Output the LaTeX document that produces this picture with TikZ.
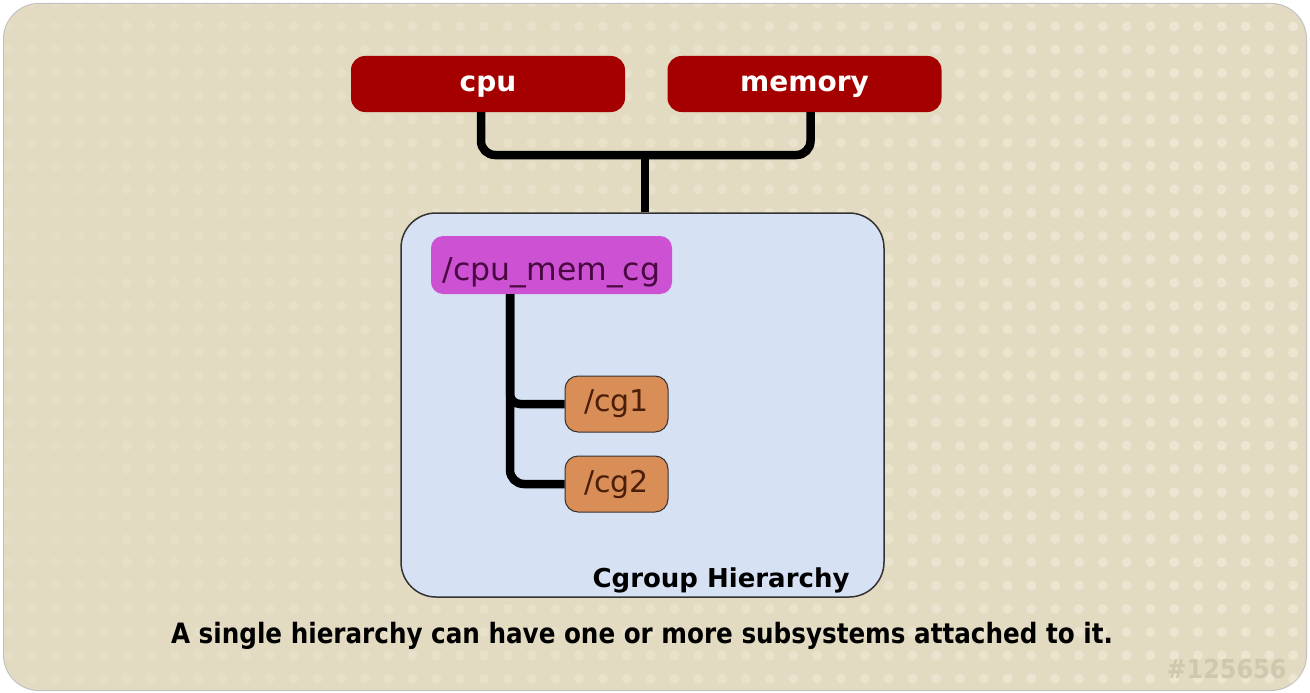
\documentclass[tikz,border=0pt]{standalone}
\usepackage{fontspec}
\setmainfont{DejaVu Sans}
\newfontfamily\narrowfont{DejaVu Sans}[FakeStretch=0.88]
\newfontfamily\tagfont{DejaVu Sans}[FakeStretch=0.92]
\usepackage{xcolor}
\usetikzlibrary{positioning,calc}

\definecolor{sand}{HTML}{E2DBC1}
\definecolor{sanddot}{HTML}{ECE6D3}
\definecolor{subred}{HTML}{A50000}
\definecolor{hierblue}{HTML}{D6E1F3}
\definecolor{cgpink}{HTML}{CC52D3}
\definecolor{cgpinktext}{HTML}{4A0840}
\definecolor{cgorange}{HTML}{D98E58}
\definecolor{cgorangetext}{HTML}{4A1E08}
\definecolor{tagcol}{HTML}{CFC8AE}

\tikzset{
  subsys/.style={fill=subred, rounded corners=14pt, minimum width=274pt, minimum height=56pt,
    text height=22pt, text depth=6pt, text=white, font=\fontsize{28}{32}\selectfont\bfseries},
  rootcg/.style={fill=cgpink, rounded corners=12pt, minimum width=241pt, minimum height=58pt,
    text height=37pt, text depth=7pt, text=cgpinktext, font=\fontsize{31.5}{36}\selectfont},
  childcg/.style={fill=cgorange, draw=black!80, line width=1pt, rounded corners=13pt,
    minimum width=103pt, minimum height=56pt, text=cgorangetext, font=\fontsize{30}{34}\selectfont},
  bus/.style={line width=8.5pt, rounded corners=14pt}
}

\begin{document}
\begin{tikzpicture}[x=1pt,y=-1pt]
    % page and backdrop
    \fill[white] (0,0) rectangle (1310,693);
    \useasboundingbox (0,0) rectangle (1310,693);
    \fill[black!25] (3,3) [rounded corners=36pt] rectangle (1307,691);
    \fill[sand] (4,4) [rounded corners=35pt] rectangle (1306,690);
    \begin{scope}
        \clip (4,4) [rounded corners=35pt] rectangle (1306,690);
        \foreach \x in {8,31.8,...,1310} {
            \pgfmathsetmacro{\op}{0.3+0.7*\x/1310}
            \foreach \y in {3,26.3,...,690}
                \fill[sanddot, opacity=\op] (\x,\y) circle (5pt);
        }
    \end{scope}

    % hierarchy box
    \node[draw=black!80, line width=1.5pt, fill=hierblue, rounded corners=35pt,
          minimum width=483pt, minimum height=384pt] (hier) at (642.5,405) {};
    \node[anchor=base east, font=\fontsize{26}{30}\selectfont\bfseries] (hiername) at (853,587) {Cgroup Hierarchy};

    % subsystems
    \node[subsys] (cpu) at (488,84) {cpu};
    \node[subsys] (mem) at (804.5,84) {memory};
    \coordinate (join) at (645,155);
    \draw[bus] ([xshift=-7pt]cpu.south) |- (join) -| ([xshift=6pt]mem.south);
    \draw[line width=8.5pt] (join) -- (join |- hier.north);

    % cgroups
    \node[rootcg] (cmc) at (551.5,265) {/cpu\_mem\_cg};
    \node[childcg] (cg1) at (616.5,404) {/cg1};
    \node[childcg] (cg2) at (616.5,484) {/cg2};
    \coordinate (trunk) at (510,294);
    \draw[bus] (trunk) |- (cg2.west);
    \draw[bus, rounded corners=10pt] (trunk) |- (cg1.west);

    % captions
    \node[anchor=base, font=\fontsize{28}{32}\narrowfont\bfseries] (caption) at (642,643)
        {A single hierarchy can have one or more subsystems attached to it.};
    \node[anchor=base east, text=tagcol, font=\fontsize{26}{30}\tagfont\bfseries] (tag) at (1290,678) {\#125656};
\end{tikzpicture}
\end{document}
